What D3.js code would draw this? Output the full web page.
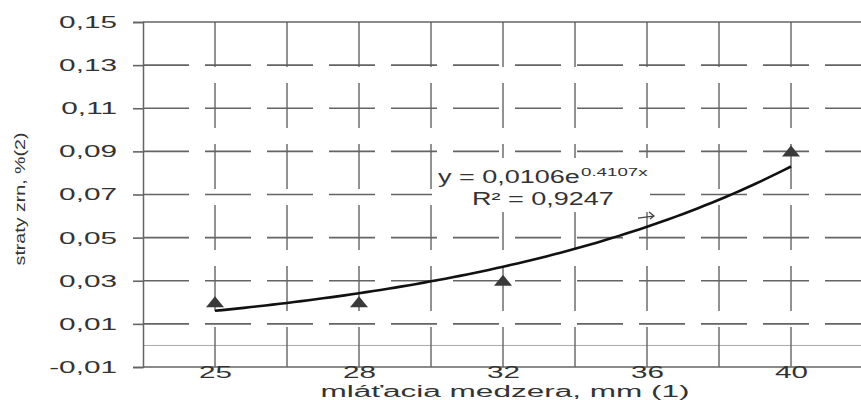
<!DOCTYPE html>
<html>
<head>
<meta charset="utf-8">
<script src="https://cdn.jsdelivr.net/npm/d3@7"></script>
<style>
  body { margin: 0; background: #fff; }
  svg { display: block; }
  text { font-family: "Liberation Sans", Arial, sans-serif; fill: #333; }
</style>
</head>
<body>
<script>
// data
const categories = ["25", "28", "32", "36", "40"];
const losses = [0.02, 0.02, 0.03, 0.06, 0.09];
const yTicks = [-0.01, 0.01, 0.03, 0.05, 0.07, 0.09, 0.11, 0.13, 0.15];
const eqText = "y = 0,0106e";
const eqExp = "0.4107x";
const r2Text = "R\u00b2 = 0,9247";

const width = 861, height = 400;
const margin = {top: 22, right: -2, bottom: 33, left: 143};

const svg = d3.select("body").append("svg")
  .attr("width", width)
  .attr("height", height);

const x = d3.scaleLinear()
  .domain([0.5, categories.length + 0.5])
  .range([margin.left, width - margin.right]);

const y = d3.scaleLinear()
  .domain([-0.01, 0.15])
  .range([height - margin.bottom, margin.top]);

const fmt = d => d.toFixed(2).replace(".", ",");

// stretch text sideways, the scanned font is very wide
function widen(sel, k) {
  sel.each(function () {
    const n = this.getComputedTextLength();
    d3.select(this).attr("textLength", n * k).attr("lengthAdjust", "spacingAndGlyphs");
  });
}

const gridColor = "#646464";
const grid = svg.append("g");

// horizontal grid (dashed), top and bottom solid
grid.selectAll("line.h")
  .data(yTicks)
  .enter().append("line")
  .attr("class", "h")
  .attr("x1", margin.left)
  .attr("x2", width)
  .attr("y1", d => y(d))
  .attr("y2", d => y(d))
  .attr("stroke", gridColor)
  .attr("stroke-width", 1.6)
  .attr("stroke-dasharray", (d, i) => (i === 0 || i === yTicks.length - 1) ? null : "46,16");

// zero line
grid.append("line")
  .attr("x1", margin.left).attr("x2", width)
  .attr("y1", y(0)).attr("y2", y(0))
  .attr("stroke", "#a8a8a8")
  .attr("stroke-width", 1);

// vertical grid at every half category
const xGrid = d3.range(1, categories.length + 0.51, 0.5);
grid.selectAll("line.v")
  .data(xGrid)
  .enter().append("line")
  .attr("class", "v")
  .attr("x1", d => x(d))
  .attr("x2", d => x(d))
  .attr("y1", y(0.15))
  .attr("y2", y(-0.01))
  .attr("stroke", gridColor)
  .attr("stroke-width", 1.4)
  .attr("stroke-dasharray", "45,16");

// left axis
const yAxis = d3.axisLeft(y)
  .tickValues(yTicks)
  .tickSize(10)
  .tickPadding(16)
  .tickFormat(fmt);

const gy = svg.append("g")
  .attr("transform", `translate(${margin.left},0)`)
  .call(yAxis);
gy.select(".domain").attr("stroke", gridColor).attr("stroke-width", 1.5);
gy.selectAll(".tick line").attr("stroke", gridColor).attr("stroke-width", 1.6);
gy.selectAll("text").style("font-size", "17px").attr("fill", "#333");
widen(gy.selectAll("text"), 1.75);

// bottom axis labels
const xAxis = d3.axisBottom(x)
  .tickValues(d3.range(1, categories.length + 1))
  .tickSize(0)
  .tickPadding(0)
  .tickFormat((d, i) => categories[i]);

const gx = svg.append("g")
  .attr("transform", `translate(0,${y(-0.01)})`)
  .call(xAxis);
gx.select(".domain").remove();
gx.selectAll("text").style("font-size", "16px").attr("fill", "#333");
widen(gx.selectAll("text"), 1.85);

// axis titles
const xt = svg.append("text")
  .attr("x", 505)
  .attr("y", 396.5)
  .attr("text-anchor", "middle")
  .style("font-size", "16px")
  .text("ml\u00e1\u0165acia medzera, mm (1)");
widen(xt, 1.97);

const yt = svg.append("text")
  .attr("transform", "translate(25,199) rotate(-90)")
  .attr("text-anchor", "middle")
  .style("font-size", "14px")
  .text("straty zrn, %(2)");
widen(yt, 1.4);

// exponential trend fitted on the data (log-linear least squares)
const xs = d3.range(1, losses.length + 1);
const ly = losses.map(v => Math.log(v));
const mx = d3.mean(xs), my = d3.mean(ly);
const b = d3.sum(xs, (v, i) => (v - mx) * (ly[i] - my)) / d3.sum(xs, v => (v - mx) * (v - mx));
const a = Math.exp(my - b * mx);
const curveX = d3.range(1, losses.length + 0.001, 0.05);

// white box behind the equation, it hides the grid there
svg.append("rect")
  .attr("x", 432).attr("y", 158)
  .attr("width", 218).attr("height", 54)
  .attr("fill", "#fff");

svg.append("path")
  .datum(curveX)
  .attr("fill", "none")
  .attr("stroke", "#111")
  .attr("stroke-width", 2.6)
  .attr("d", d3.line().x(d => x(d)).y(d => y(a * Math.exp(b * d))));

// markers: triangles, the one at 36 is almost lost in the scan
const pts = losses.map((v, i) => ({i: i + 1, v}));
const tri = "M0,-6L9,5L-9,5Z";
svg.selectAll("path.mark")
  .data(pts.filter(p => p.i !== 4))
  .enter().append("path")
  .attr("class", "mark")
  .attr("transform", p => `translate(${x(p.i)},${y(p.v)})`)
  .attr("d", tri)
  .attr("fill", "#3a3a3a");

const lost = pts.filter(p => p.i === 4);
svg.selectAll("path.lost")
  .data(lost)
  .enter().append("path")
  .attr("class", "lost")
  .attr("transform", p => `translate(${x(p.i)},${y(p.v)})`)
  .attr("d", "M-9,2L6,0M2,-4L7,0L3,3")
  .attr("fill", "none")
  .attr("stroke", "#444")
  .attr("stroke-width", 1.3);

// equation labels
const eq = svg.append("text")
  .attr("x", 438).attr("y", 183)
  .style("font-size", "18px")
  .text(eqText);
widen(eq, 1.5);

const ex = svg.append("text")
  .attr("x", 581).attr("y", 176)
  .style("font-size", "11px")
  .text(eqExp);
widen(ex, 1.7);

const r2 = svg.append("text")
  .attr("x", 472).attr("y", 205)
  .style("font-size", "18px")
  .text(r2Text);
widen(r2, 1.5);
</script>
</body>
</html>
